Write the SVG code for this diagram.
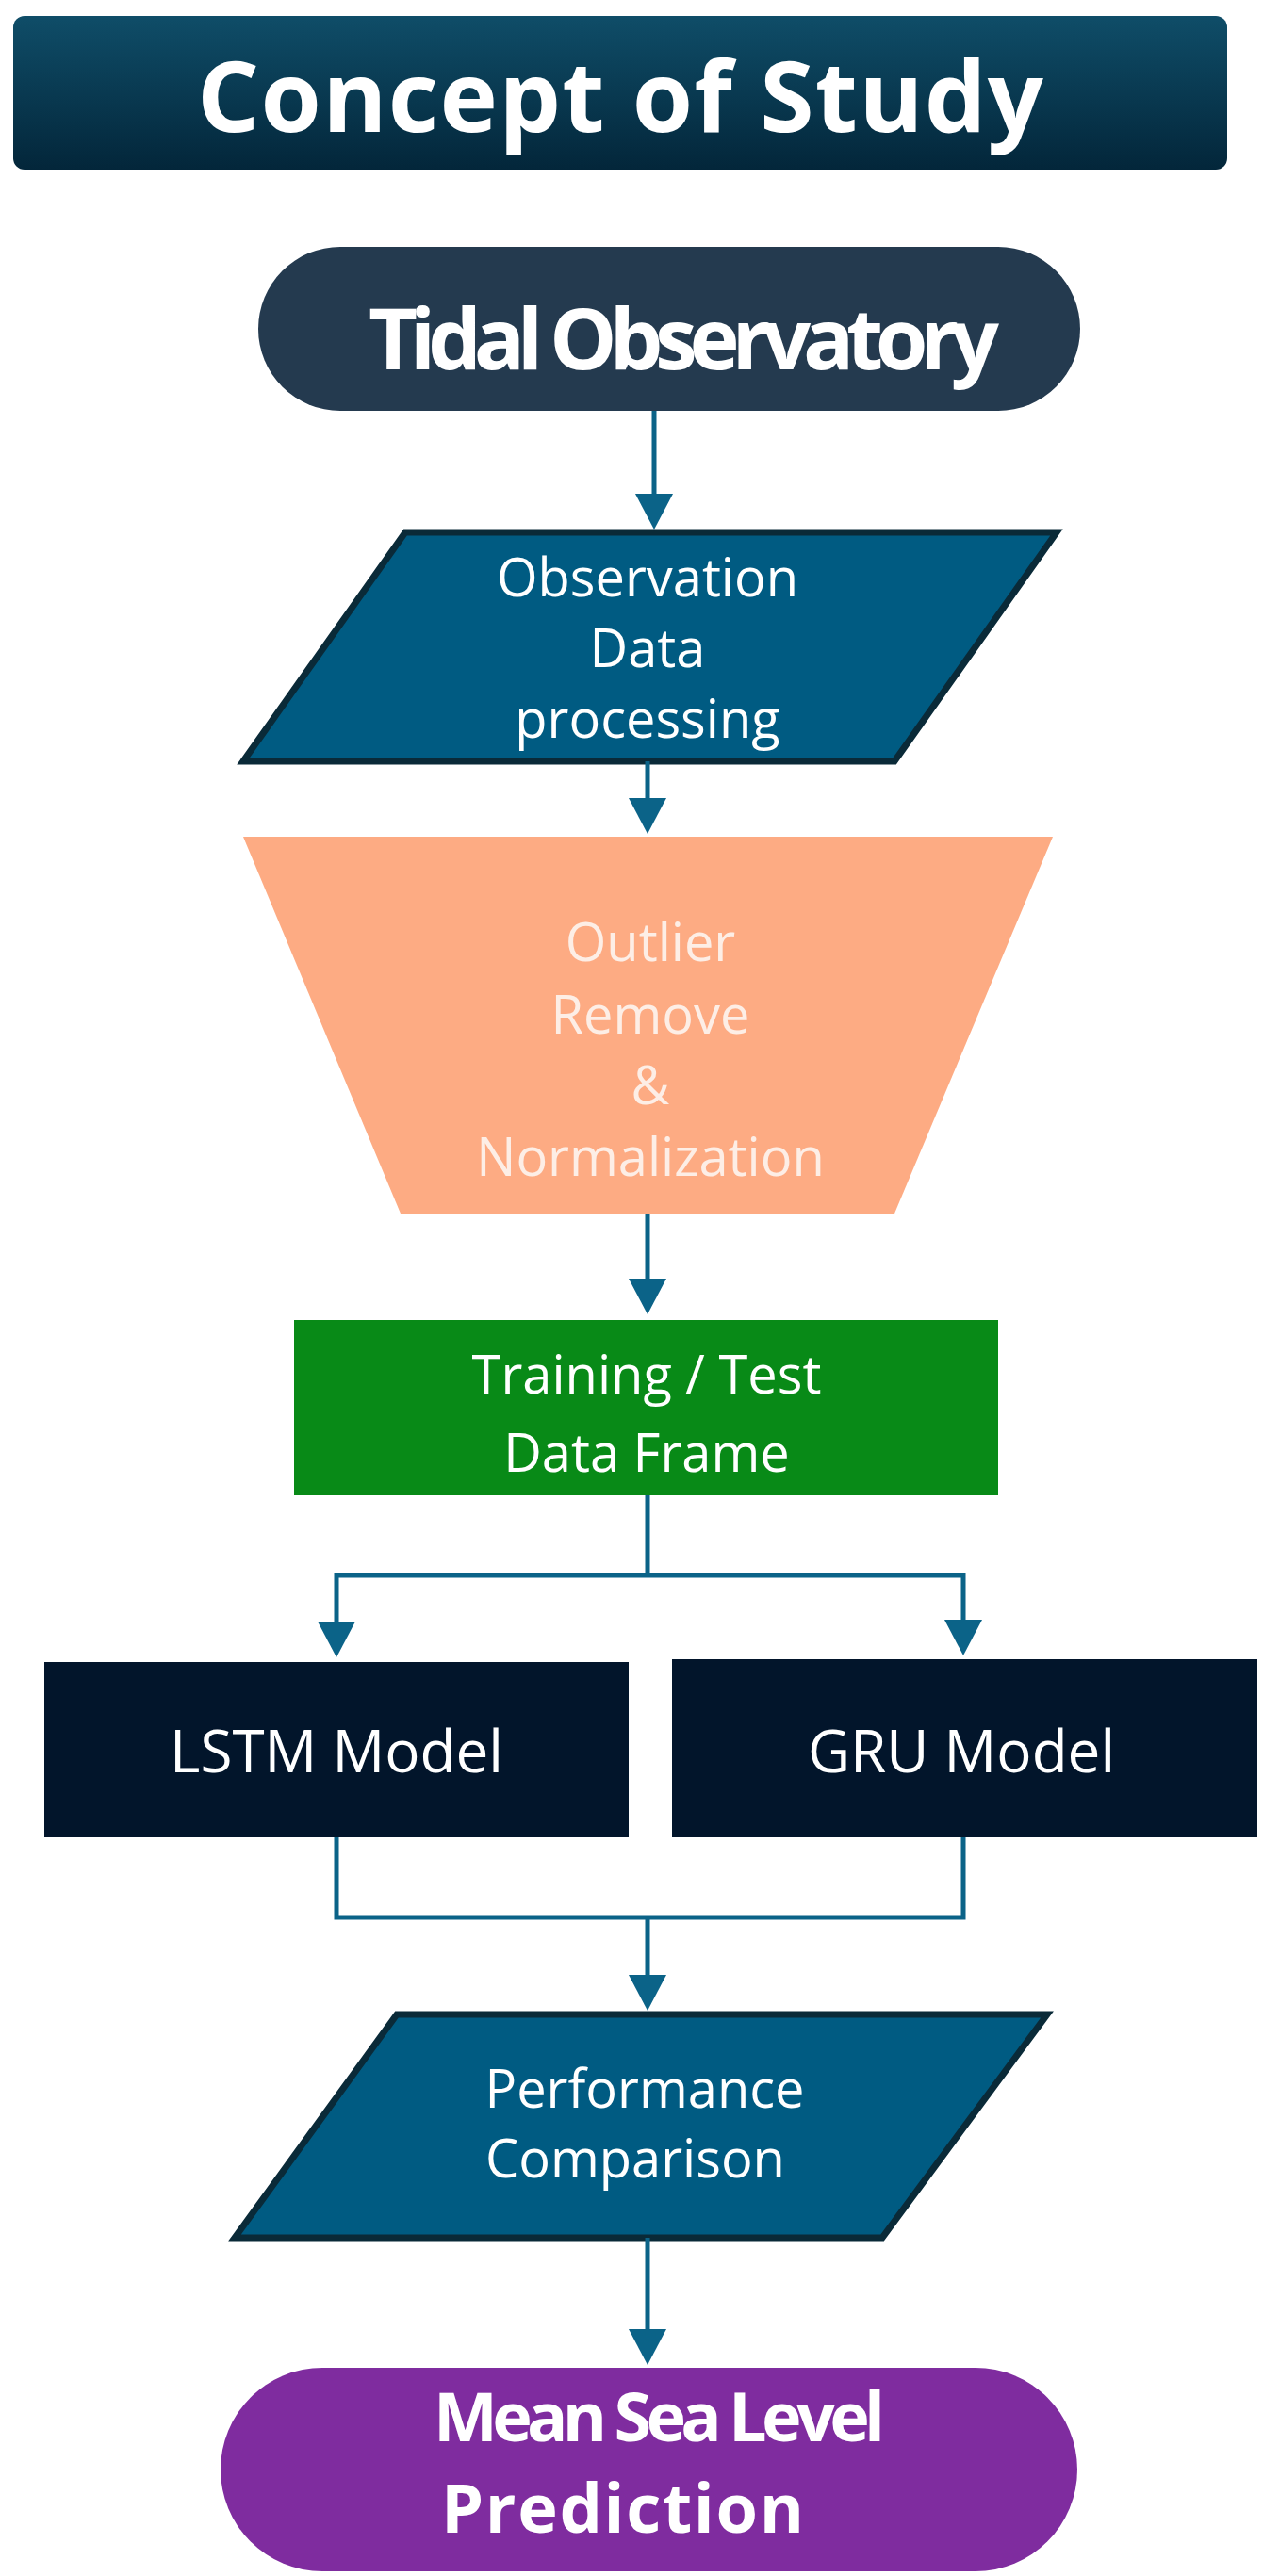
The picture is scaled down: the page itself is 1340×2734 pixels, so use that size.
<svg xmlns="http://www.w3.org/2000/svg" width="1340" height="2734" viewBox="0 0 1340 2734">
<defs>
<linearGradient id="tg" x1="0" y1="0" x2="0" y2="1"><stop offset="0" stop-color="#0f4d68"/><stop offset="1" stop-color="#03263a"/></linearGradient>
<polygon id="ah" points="-20,-38 20,-38 0,0" fill="#0b6388"/>
</defs>
<style>
text{font-family:"Open Sans","Liberation Sans",sans-serif;text-anchor:middle;fill:#fff}
.n{font-size:56px}
.p{fill:#fdeee6}
.b{font-weight:bold;letter-spacing:-3px}
.c{fill:none;stroke:#0b6388;stroke-width:5}
</style>
<rect width="1340" height="2734" fill="#fff"/>
<g id="title"><rect x="14" y="17" width="1288" height="163" rx="12" fill="url(#tg)"/><text x="658" y="140" font-size="104" font-weight="bold" textLength="898">Concept of Study</text></g>
<g id="tidal"><rect x="274" y="262" width="872" height="174" rx="87" fill="#243a4f"/><text class="b" x="724" y="392" font-size="90" textLength="666">Tidal Observatory</text></g>
<g id="obs"><polygon points="430,565 1121,565 949,808 258,808" fill="#005b82" stroke="#0a2a38" stroke-width="7"/><text class="n" x="687" y="633">Observation</text><text class="n" x="687" y="708">Data</text><text class="n" x="687" y="783">processing</text></g>
<g id="outlier"><polygon points="258,888 1117,888 949,1288 425,1288" fill="#fdab83"/><text class="n p" x="690" y="1020">Outlier</text><text class="n p" x="690" y="1097">Remove</text><text class="n p" x="690" y="1172">&amp;</text><text class="n p" x="690" y="1248">Normalization</text></g>
<g id="frame"><rect x="312" y="1401" width="747" height="186" fill="#088a17"/><text class="n" x="686" y="1479">Training / Test</text><text class="n" x="686" y="1562">Data Frame</text></g>
<g id="lstm"><rect x="47" y="1764" width="620" height="186" fill="#02152b"/><text x="357" y="1881" font-size="62">LSTM  Model</text></g>
<g id="gru"><rect x="713" y="1761" width="621" height="189" fill="#02152b"/><text x="1020" y="1881" font-size="62">GRU  Model</text></g>
<g id="perf"><polygon points="421,2138 1111,2138 936,2375 249,2375" fill="#005b82" stroke="#0a2a38" stroke-width="7"/><text class="n" x="684" y="2237">Performance</text><text class="n" x="674" y="2311">Comparison</text></g>
<g id="msl"><rect x="234" y="2513" width="909" height="216" rx="108" fill="#7f2c9f"/><text class="b" x="698" y="2591" font-size="72" textLength="476">Mean Sea Level</text><text class="b" x="659" y="2688" font-size="72" textLength="382">Prediction</text></g>
<g id="connectors">
<path class="c" d="M694,436 V530 M687,808 V850 M687,1288 V1360 M687,1587 V1672 M357,1725 V1672 H1022 V1725 M357,1950 V2035 H1022 V1950 M687,2035 V2100 M687,2375 V2475"/>
<use href="#ah" x="694" y="562"/>
<use href="#ah" x="687" y="885"/>
<use href="#ah" x="687" y="1395"/>
<use href="#ah" x="357" y="1759"/>
<use href="#ah" x="1022" y="1757"/>
<use href="#ah" x="687" y="2134"/>
<use href="#ah" x="687" y="2510"/>
</g>
</svg>
